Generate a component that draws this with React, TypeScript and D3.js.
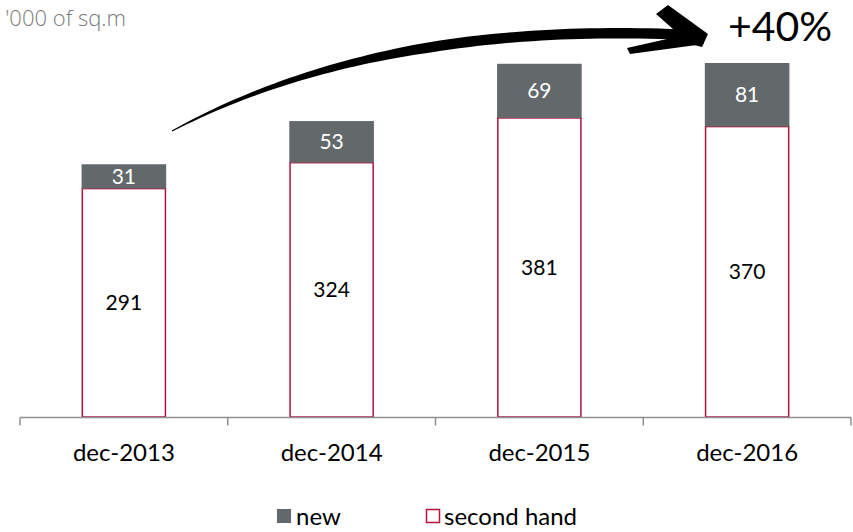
import React, { useEffect, useRef } from "react";
import * as d3 from "d3";

const categories = ["dec-2013", "dec-2014", "dec-2015", "dec-2016"];
const secondHand = [291, 324, 381, 370];
const newStock = [31, 53, 69, 81];
const seriesNames = ["new", "second hand"];
const unitLabel = "'000 of sq.m";
const growthLabel = "+40%";

const W = 853;
const H = 532;
const GRAY = "#63686b";
const CRIMSON = "#b5123f";
const AXIS = "#8f8f8f";
const FONT = "Lato, 'Open Sans', sans-serif";

export default function App() {
  const ref = useRef<SVGSVGElement | null>(null);

  useEffect(() => {
    const svg = d3.select(ref.current);
    svg.selectAll("*").remove();

    const x = d3.scaleBand<string>().domain(categories).range([20, 851]).paddingInner(0).paddingOuter(0);
    const totals = secondHand.map((v, i) => v + newStock[i]);
    const y = d3.scaleLinear().domain([0, d3.max(totals) as number]).range([417, 63]);
    const barW = x.bandwidth() * 0.4;

    const g = svg.append("g");

    // second-hand segments (outlined)
    g.selectAll("rect.sh")
      .data(categories)
      .join("rect")
      .attr("class", "sh")
      .attr("x", (d) => (x(d) as number) + (x.bandwidth() - barW) / 2)
      .attr("y", (_, i) => y(secondHand[i]))
      .attr("width", barW)
      .attr("height", (_, i) => y(0) - y(secondHand[i]))
      .attr("fill", "#fff")
      .attr("stroke", CRIMSON)
      .attr("stroke-width", 1.5);

    // new segments stacked on top
    g.selectAll("rect.nw")
      .data(categories)
      .join("rect")
      .attr("class", "nw")
      .attr("x", (d) => (x(d) as number) + (x.bandwidth() - barW) / 2 - 0.75)
      .attr("y", (_, i) => y(secondHand[i] + newStock[i]))
      .attr("width", barW + 1.5)
      .attr("height", (_, i) => y(secondHand[i]) - y(secondHand[i] + newStock[i]))
      .attr("fill", GRAY);

    // value labels
    g.selectAll("text.shv")
      .data(categories)
      .join("text")
      .attr("x", (d) => (x(d) as number) + x.bandwidth() / 2)
      .attr("y", (_, i) => (y(0) + y(secondHand[i])) / 2)
      .attr("dy", "0.35em")
      .attr("text-anchor", "middle")
      .attr("font-family", FONT)
      .attr("font-size", 21)
      .attr("fill", "#000")
      .text((_, i) => String(secondHand[i]));

    g.selectAll("text.nwv")
      .data(categories)
      .join("text")
      .attr("x", (d) => (x(d) as number) + x.bandwidth() / 2)
      .attr("y", (_, i) => (y(secondHand[i]) + y(secondHand[i] + newStock[i])) / 2)
      .attr("dy", "0.35em")
      .attr("text-anchor", "middle")
      .attr("font-family", FONT)
      .attr("font-size", 21)
      .attr("fill", "#fff")
      .text((_, i) => String(newStock[i]));

    // category axis with ticks on band boundaries
    const axisY = y(0) + 0.5;
    g.append("line")
      .attr("x1", 20).attr("x2", 851)
      .attr("y1", axisY).attr("y2", axisY)
      .attr("stroke", AXIS).attr("stroke-width", 1.5);
    const bounds = categories.map((c) => x(c) as number).concat([x.range()[1]]);
    g.selectAll("line.tick")
      .data(bounds)
      .join("line")
      .attr("x1", (d) => d).attr("x2", (d) => d)
      .attr("y1", axisY).attr("y2", axisY + 8)
      .attr("stroke", AXIS).attr("stroke-width", 1.5);
    g.selectAll("text.cat")
      .data(categories)
      .join("text")
      .attr("x", (d) => (x(d) as number) + x.bandwidth() / 2)
      .attr("y", 453)
      .attr("dy", "0.35em")
      .attr("text-anchor", "middle")
      .attr("font-family", FONT)
      .attr("font-size", 24)
      .attr("fill", "#000")
      .text((d) => d);

    // unit label
    svg.append("text")
      .attr("x", 126).attr("y", 18).attr("dy", "0.35em")
      .attr("text-anchor", "end")
      .attr("font-family", "'Open Sans', sans-serif")
      .attr("font-weight", 300)
      .attr("font-size", 22)
      .attr("fill", "#7a7a7a")
      .text(unitLabel);

    // growth label
    svg.append("text")
      .attr("x", 780).attr("y", 27).attr("dy", "0.35em")
      .attr("text-anchor", "middle")
      .attr("font-family", FONT)
      .attr("font-size", 41)
      .attr("fill", "#000")
      .text(growthLabel);

    // tapered brush arrow: quadratic centreline with varying width
    const P0 = [172, 131], P1 = [380, 20], P2 = [690, 35];
    const pt = (t: number) => [
      (1 - t) * (1 - t) * P0[0] + 2 * (1 - t) * t * P1[0] + t * t * P2[0],
      (1 - t) * (1 - t) * P0[1] + 2 * (1 - t) * t * P1[1] + t * t * P2[1],
    ];
    const upper: [number, number][] = [];
    const lower: [number, number][] = [];
    const n = 60;
    for (let k = 0; k <= n; k++) {
      const t = k / n;
      const [px, py] = pt(t);
      const dx = 2 * (1 - t) * (P1[0] - P0[0]) + 2 * t * (P2[0] - P1[0]);
      const dy = 2 * (1 - t) * (P1[1] - P0[1]) + 2 * t * (P2[1] - P1[1]);
      const len = Math.hypot(dx, dy);
      const nx = -dy / len, ny = dx / len;
      const w = 0.6 + 4.6 * Math.min(1, t / 0.55);
      upper.push([px + nx * w, py + ny * w]);
      lower.push([px - nx * w, py - ny * w]);
    }
    const poly = upper.concat(lower.reverse());
    svg.append("path")
      .attr("d", d3.line().curve(d3.curveLinearClosed)(poly) as string)
      .attr("fill", "#000");
    // arrowhead strokes
    svg.append("path")
      .attr("d", "M656,14 L668,5 L708,34 L702,47 L690,44 Z")
      .attr("fill", "#000");
    svg.append("path")
      .attr("d", "M627,48 L698,32 L704,44 L630,54 Z")
      .attr("fill", "#000");

    // legend
    const lg = svg.append("g").attr("font-family", FONT).attr("font-size", 24);
    lg.append("rect").attr("x", 277).attr("y", 509).attr("width", 14).attr("height", 14).attr("fill", GRAY);
    lg.append("text").attr("x", 296).attr("y", 517).attr("dy", "0.35em").text(seriesNames[0]);
    lg.append("rect").attr("x", 426.5).attr("y", 509.5).attr("width", 13).attr("height", 13)
      .attr("fill", "#fff").attr("stroke", CRIMSON).attr("stroke-width", 1.5);
    lg.append("text").attr("x", 444).attr("y", 517).attr("dy", "0.35em").text(seriesNames[1]);
  }, []);

  return (
    <svg ref={ref} width={W} height={H} style={{ position: "absolute", left: 0, top: 0, background: "#fff" }} />
  );
}
